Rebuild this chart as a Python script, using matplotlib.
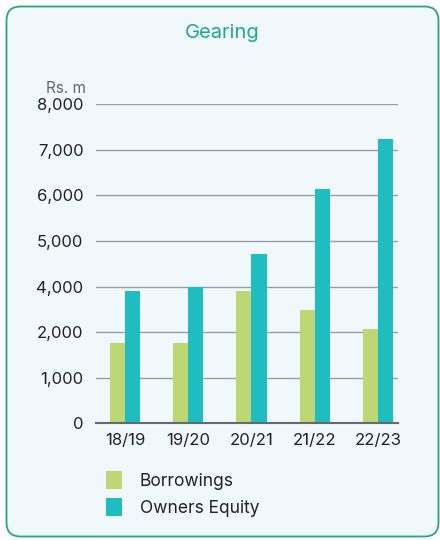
import numpy as np
import matplotlib
matplotlib.use("Agg")
import matplotlib.pyplot as plt
import matplotlib.patches as mpatches
from matplotlib.transforms import IdentityTransform

years = ["18/19", "19/20", "20/21", "21/22", "22/23"]
borrowings = [1770, 1770, 3800, 2970, 2140]
owners_equity = [3810, 4000, 4720, 6140, 7240]
y_ticks = [0, 1000, 2000, 4000, 5000, 6000, 7000, 8000]

green = "#bdd774"
teal = "#1fbcc0"
title_col = "#1faa8e"
bg = "#f1f8fb"

plt.rcParams["font.family"] = ["Inter", "DejaVu Sans"]

# the original axis skips 3,000 -> piecewise scale
brk_v = [0, 2000, 4000, 8000]
brk_p = [0, 2, 3, 7]
def fwd(v):
    return np.interp(v, brk_v, brk_p)
def inv(p):
    return np.interp(p, brk_p, brk_v)

fig = plt.figure(figsize=(4.4, 5.4), dpi=100)
fig.patch.set_facecolor("white")
box = mpatches.FancyBboxPatch((6.5, 3.5), 432, 530,
                              boxstyle="round,pad=0,rounding_size=14",
                              transform=IdentityTransform(),
                              facecolor=bg, edgecolor="#2aa576", linewidth=1.3,
                              zorder=-5)
fig.patches.append(box)

ax = fig.add_axes([0.218, 0.216, 0.687, 0.591])
ax.set_facecolor("none")
ax.set_yscale("function", functions=(fwd, inv))

x = np.arange(len(years))
w = 0.24
ax.bar(x - w / 2, borrowings, w, color=green, label="Borrowings", zorder=3)
ax.bar(x + w / 2, owners_equity, w, color=teal, label="Owners Equity", zorder=3)

ax.set_ylim(0, 8000)
ax.set_xlim(-0.46, 4.32)
ax.set_yticks(y_ticks)
ax.set_yticklabels([f"{t:,}" for t in y_ticks])
ax.yaxis.set_minor_locator(matplotlib.ticker.NullLocator())
ax.set_xticks(x)
ax.set_xticklabels(years)
ax.tick_params(axis="both", length=0, labelsize=12, colors="#222222")
ax.tick_params(axis="y", pad=9)
ax.tick_params(axis="x", pad=7)
ax.grid(axis="y", color="#9a9ea3", linewidth=1, zorder=1)
for s in ["top", "right", "left"]:
    ax.spines[s].set_visible(False)
ax.spines["bottom"].set_color("#666a6e")
ax.spines["bottom"].set_linewidth(1.5)
ax.spines["bottom"].set_zorder(4)

fig.text(0.505, 0.938, "Gearing", ha="center", va="center",
         fontsize=14.5, color=title_col)
fig.text(0.196, 0.836, "Rs. m", ha="right", va="center",
         fontsize=11, color="#666666")

leg = fig.legend(loc="upper left", bbox_to_anchor=(0.24, 0.128),
                 frameon=False, fontsize=12.5, handlelength=0.92,
                 handleheight=1.2, handletextpad=1.05, labelspacing=0.5,
                 borderaxespad=0, borderpad=0)
for t in leg.get_texts():
    t.set_color("#222222")

fig.savefig("out.png", dpi=100)
